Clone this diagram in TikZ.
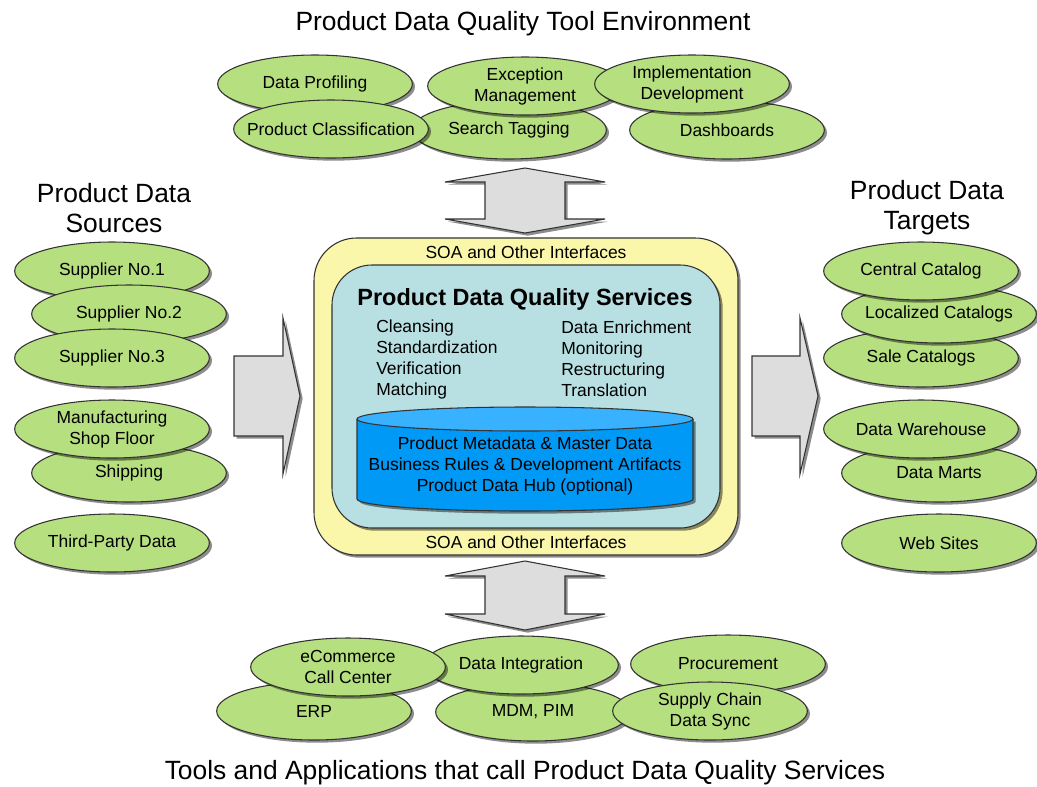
\documentclass[tikz,border=0pt]{standalone}
\usepackage{fontspec}
\setmainfont{Liberation Sans}
\usepackage{tikz}
\usetikzlibrary{shapes.geometric,shadows}
\definecolor{pdgreen}{RGB}{182,223,127}
\definecolor{pdyellow}{RGB}{250,247,170}
\definecolor{pdcyan}{RGB}{184,223,226}
\definecolor{pdblue}{RGB}{0,153,245}
\definecolor{pdbluetop}{RGB}{56,178,255}
\definecolor{pdgray}{RGB}{221,221,221}
\newcommand\pdtext{\fontsize{13.1}{15.75}\selectfont}
\newcommand\pdbig{\fontsize{19.8}{22.5}\selectfont}
\newcommand\pdhead{\bfseries\fontsize{17.6}{21}\selectfont}
\tikzset{
  pdshadow/.style={drop shadow={shadow xshift=2pt, shadow yshift=-2pt,
                                fill=black, opacity=0.45}},
  pdoval/.style ={ellipse, draw=black!80, fill=pdgreen, line width=0.8pt,
                  minimum width=146pt, minimum height=43.5pt,
                  inner xsep=-16pt, inner ysep=0pt,
                  align=center, font=\pdtext, pdshadow},
  pdblock/.style={draw=black!80, fill=pdgray, line width=0.8pt, line join=miter, pdshadow},
  pdouter/.style={rectangle, rounded corners=32pt, draw=black!80, fill=pdyellow,
                  line width=0.8pt, minimum width=318pt, minimum height=237.75pt, pdshadow},
  pdinner/.style={rectangle, rounded corners=30pt, draw=black!80, fill=pdcyan,
                  line width=0.8pt, minimum width=291pt, minimum height=197.25pt, pdshadow},
  pdhubbody/.style={draw=black!80, fill=pdblue, line width=0.8pt, pdshadow},
  pdhubtop/.style ={draw=black!80, fill=pdbluetop, line width=0.8pt},
  pdtitle/.style={font=\pdbig, align=center, inner sep=0pt},
  pdlabel/.style={font=\pdtext, inner sep=0pt},
}

\begin{document}
\begin{tikzpicture}[x=0.75pt, y=-0.75pt]
    \useasboundingbox (0,0) rectangle (1037,786);
    \fill[white] (0,0) rectangle (1037,786);

    % titles
    \node[pdtitle] (tooltitle) at (523,24)  {Product Data Quality Tool Environment};
    \node[pdtitle] (srctitle)  at (114,208) {Product Data\\Sources};
    \node[pdtitle] (tgttitle)  at (927,208) {Product Data\\Targets};
    \node[pdtitle] (apptitle)  at (525,773) {Tools and Applications that call Product Data Quality Services};

    % tool environment
    \node[pdoval] (profiling) at (315,84)  {Data Profiling};
    \node[pdoval] (tagging)   at (509,130) {Search Tagging};
    \node[pdoval] (classif)   at (331,129) {Product Classification};
    \node[pdoval] (exception) at (525,86)  {Exception\\Management};
    \node[pdoval] (dashboard) at (727,130) {Dashboards};
    \node[pdoval] (implement) at (692,84)  {Implementation\\Development};

    % sources
    \node[pdoval] (sup1)   at (112,271) {Supplier No.1};
    \node[pdoval] (sup2)   at (129,314) {Supplier No.2};
    \node[pdoval] (sup3)   at (112,358) {Supplier No.3};
    \node[pdoval] (ship)   at (129,473) {Shipping};
    \node[pdoval] (manuf)  at (112,429) {Manufacturing\\Shop Floor};
    \node[pdoval] (third)  at (112,543) {Third-Party Data};

    % targets
    \node[pdoval] (sale)    at (921,358) {Sale Catalogs};
    \node[pdoval] (local)   at (939,314) {Localized Catalogs};
    \node[pdoval] (central) at (921,271) {Central Catalog};
    \node[pdoval] (marts)   at (939,473) {Data Marts};
    \node[pdoval] (dwh)     at (921,429) {Data Warehouse};
    \node[pdoval] (web)     at (939,543) {Web Sites};

    % calling applications
    \node[pdoval] (erp)     at (314,711) {ERP};
    \node[pdoval] (mdm)     at (533,712) {MDM, PIM};
    \node[pdoval] (integr)  at (521,665) {Data Integration};
    \node[pdoval] (ecomm)   at (348,667) {eCommerce\\Call Center};
    \node[pdoval] (procure) at (728,664) {Procurement};
    \node[pdoval] (supply)  at (710,711) {Supply Chain\\Data Sync};

    % block arrows
    \draw[pdblock] (234,356) -- (283,356) -- (283,318) -- (300,396) -- (283,474)
                   -- (283,436) -- (234,436) -- cycle;
    \draw[pdblock] (752,356) -- (800,356) -- (800,318) -- (818,396) -- (800,474)
                   -- (800,436) -- (752,436) -- cycle;
    \draw[pdblock] (525,168) -- (605,182) -- (565,182) -- (565,219) -- (605,219)
                   -- (525,233) -- (445,219) -- (485,219) -- (485,182) -- (445,182) -- cycle;
    \draw[pdblock] (525,561) -- (605,576) -- (565,576) -- (565,614) -- (605,614)
                   -- (525,630) -- (445,614) -- (485,614) -- (485,576) -- (445,576) -- cycle;

    % services box
    \node[pdouter] (soa) at (526,396.5) {};
    \node[pdinner] (pdq) at (526,396.5) {};
    \node[pdlabel] (soatop) at (526,252) {SOA and Other Interfaces};
    \node[pdlabel] (soabot) at (526,542) {SOA and Other Interfaces};
    \node[font=\pdhead, inner sep=0pt] (pdqtitle) at (525,299) {Product Data Quality Services};
    \node[pdlabel, anchor=west, align=left] (svcleft) at (376,359)
        {Cleansing\\Standardization\\Verification\\Matching};
    \node[pdlabel, anchor=west, align=left] (svcright) at (561,359)
        {Data Enrichment\\Monitoring\\Restructuring\\Translation};

    % hub cylinder
    \filldraw[pdhubbody] (357,419) -- (357,499)
        arc[start angle=180, end angle=360, x radius=126pt, y radius=9pt] -- (693,419);
    \filldraw[pdhubtop] (525,419) ellipse[x radius=126pt, y radius=9pt];
    \node[pdlabel, align=center] (hub) at (525,466)
        {Product Metadata \& Master Data\\Business Rules \& Development Artifacts\\Product Data Hub (optional)};
\end{tikzpicture}
\end{document}
